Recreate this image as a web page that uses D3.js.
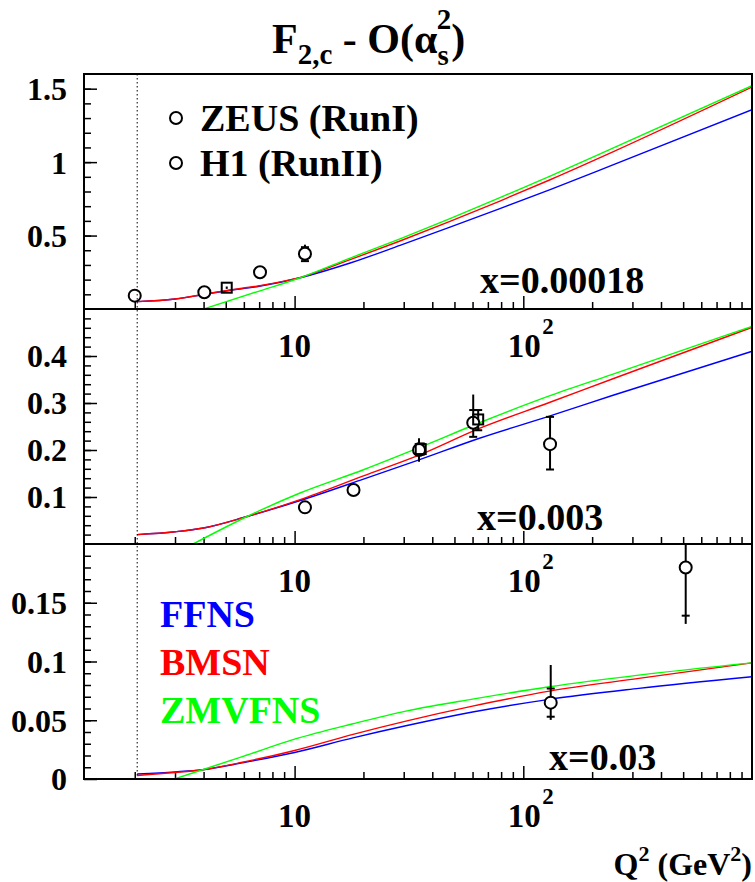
<!DOCTYPE html>
<html>
<head>
<meta charset="utf-8">
<script src="https://cdn.jsdelivr.net/npm/d3@7"></script>
<style>
  body { margin: 0; background: #fff; }
  text { font-family: "Liberation Serif", "Times New Roman", serif; font-weight: bold; fill: #000; }
</style>
</head>
<body>
<div id="chart"></div>
<script>
//-- Data --//
var xBinLabels = ["x=0.00018", "x=0.003", "x=0.03"];
var schemeNames = ["FFNS", "BMSN", "ZMVFNS"];
var expNames = ["ZEUS (RunI)", "H1 (RunII)"];

// top panel, x = 0.00018
var qTop = [2.05, 3, 4, 5, 7, 10.6, 17.5, 28.9, 47.8, 79, 131, 245, 1000];
var ffnsTop = [0.05, 0.068, 0.099, 0.123, 0.155, 0.213, 0.313, 0.433, 0.557, 0.683, 0.813, 0.979, 1.357];
var bmsnTop = [0.05, 0.068, 0.1, 0.125, 0.158, 0.215, 0.336, 0.463, 0.597, 0.735, 0.88, 1.068, 1.511];
var qZmvTop = [4, 7, 10.6, 17.5, 28.9, 47.8, 79, 131, 245, 1000];
var zmvTop = [0, 0.122, 0.213, 0.347, 0.478, 0.616, 0.758, 0.905, 1.093, 1.52];

// middle panel, x = 0.003
var qMid = [2.05, 3, 4, 6.2, 10.5, 20, 35, 64.3, 130, 245, 1000];
var ffnsMid = [0.02, 0.026, 0.034, 0.0585, 0.092, 0.138, 0.179, 0.225, 0.272, 0.316, 0.41];
var bmsnMid = [0.02, 0.026, 0.034, 0.0585, 0.094, 0.145, 0.189, 0.246, 0.301, 0.351, 0.461];
var qZmvMid = [3.6, 6.2, 10.5, 20, 35, 64.3, 130, 245, 1000];
var zmvMid = [0, 0.0585, 0.108, 0.158, 0.205, 0.258, 0.315, 0.361, 0.463];

// bottom panel, x = 0.03
var qBot = [2.05, 3, 3.96, 6, 10, 18, 31, 60, 130, 320, 1000];
var ffnsBot = [0.0042, 0.006, 0.0079, 0.014, 0.0226, 0.035, 0.0455, 0.057, 0.0678, 0.0771, 0.087];
var bmsnBot = [0.003, 0.0055, 0.0079, 0.0145, 0.0243, 0.038, 0.0495, 0.062, 0.0748, 0.0856, 0.0988];
var qZmvBot = [2.98, 3.96, 6, 10, 18, 31, 60, 130, 320, 1000];
var zmvBot = [0, 0.0079, 0.0195, 0.0339, 0.047, 0.058, 0.068, 0.0785, 0.0884, 0.0988];

// measurements: [Q2, F2c, errDown, errUp, capDown, capUp] (cap 0 = no cap)
var circlesTop = [[2.0, 0.091, 0.006, 0.006, 0, 0], [4.03, 0.114, 0.006, 0.006, 0, 0],
                  [7.06, 0.25, 0.045, 0.02, 0, 0], [11.1, 0.376, 0.052, 0.062, 0.05, 0.045]];
var squaresTop = [[5.05, 0.145, 0.008, 0.008, 0, 0]];
var circlesMid = [[11.1, 0.078, 0.006, 0.006, 0, 0], [18.1, 0.115, 0.008, 0.008, 0, 0],
                  [35.0, 0.2, 0.025, 0.025, 0, 0], [60.4, 0.258, 0.03, 0.06, 0.03, 0.027],
                  [130.9, 0.2125, 0.054, 0.058, 0.054, 0.058]];
var squaresMid = [[35.6, 0.202, 0.012, 0.012, 0.012, 0.012], [63.5, 0.265, 0.023, 0.02, 0.023, 0.02]];
var circlesBot = [[131.8, 0.065, 0.0147, 0.032, 0.012, 0.012], [513, 0.18, 0.048, 0.04, 0.041, 0.04]];
var squaresBot = [];

var yMaxes = [1.6, 0.5, 0.2];
var yMajor = [[0.5, 1, 1.5], [0.1, 0.2, 0.3, 0.4], [0, 0.05, 0.1, 0.15]];
var yMinorStep = [0.1, 0.02, 0.01];
var qMin = 1.2, qMax = 1000, qThreshold = 2.05;

//-- Layout --//
var W = 755, H = 882;
var left = 84, right = 752;
var panelTops = [74, 309, 544], panelH = 235;
var colors = ["#0000ff", "#ff0000", "#00ff00"];

var svg = d3.select("#chart").append("svg")
  .attr("width", W).attr("height", H)
  .style("background", "#fff");

var x = d3.scaleLog().domain([qMin, qMax]).range([left, right]);

var panels = [
  {q: qTop, f: ffnsTop, b: bmsnTop, qz: qZmvTop, z: zmvTop, c: circlesTop, s: squaresTop},
  {q: qMid, f: ffnsMid, b: bmsnMid, qz: qZmvMid, z: zmvMid, c: circlesMid, s: squaresMid},
  {q: qBot, f: ffnsBot, b: bmsnBot, qz: qZmvBot, z: zmvBot, c: circlesBot, s: squaresBot}
];

var xMinor = [];
[1, 10, 100].forEach(function(d) {
  for (var k = 2; k <= 9; k++) if (d * k >= qMin && d * k <= qMax) xMinor.push(d * k);
});

var line = d3.line().curve(d3.curveMonotoneX);

panels.forEach(function(p, i) {
  var top = panelTops[i], bottom = top + panelH;
  var y = d3.scaleLinear().domain([0, yMaxes[i]]).range([bottom, top]);
  var g = svg.append("g");

  svg.append("clipPath").attr("id", "clip" + i)
    .append("rect").attr("x", left).attr("y", top)
    .attr("width", right - left).attr("height", panelH);

  // y ticks and labels
  var minor = d3.range(yMinorStep[i], yMaxes[i] - 1e-9, yMinorStep[i]);
  g.append("g").attr("transform", "translate(" + left + ",0)")
    .call(d3.axisLeft(y).tickValues(minor).tickSize(-7).tickFormat(""))
    .call(function(a) { a.select(".domain").remove(); a.selectAll("line").attr("stroke-width", 1.5); });
  g.append("g").attr("transform", "translate(" + left + ",0)")
    .call(d3.axisLeft(y).tickValues(yMajor[i]).tickSize(-13).tickPadding(17).tickFormat(function(d) { return d; }))
    .call(function(a) {
      a.select(".domain").remove();
      a.selectAll("line").attr("stroke-width", 1.5);
      a.selectAll("text").attr("font-size", 32).attr("font-family", null).attr("dy", "0.34em");
    });

  // x ticks along the bottom of each pad
  g.append("g").attr("transform", "translate(0," + bottom + ")")
    .call(d3.axisBottom(x).tickValues(xMinor).tickSize(-7).tickFormat(""))
    .call(function(a) { a.select(".domain").remove(); a.selectAll("line").attr("stroke-width", 1.5); });
  g.append("g").attr("transform", "translate(0," + bottom + ")")
    .call(d3.axisBottom(x).tickValues([10, 100]).tickSize(-13).tickFormat(""))
    .call(function(a) { a.select(".domain").remove(); a.selectAll("line").attr("stroke-width", 1.5); });

  // curves
  var cg = g.append("g").attr("clip-path", "url(#clip" + i + ")");
  var series = [[p.q, p.f], [p.q, p.b], [p.qz, p.z]];
  series.forEach(function(s, k) {
    var pts = s[0].map(function(q, j) { return [x(q), y(s[1][j])]; });
    cg.append("path").attr("d", line(pts))
      .attr("fill", "none").attr("stroke", colors[k]).attr("stroke-width", 1.4);
  });

  // data points with error bars
  var all = p.c.concat(p.s);
  all.forEach(function(d) {
    var px = x(d[0]);
    cg.append("line").attr("x1", px).attr("x2", px)
      .attr("y1", y(d[1] - d[2])).attr("y2", y(d[1] + d[3]))
      .attr("stroke", "#000").attr("stroke-width", 2);
    [[-d[4], d[4]], [d[5], d[5]]].forEach(function(c) {
      if (c[1] > 0) {
        cg.append("line").attr("x1", px - 4).attr("x2", px + 4)
          .attr("y1", y(d[1] + c[0])).attr("y2", y(d[1] + c[0]))
          .attr("stroke", "#000").attr("stroke-width", 2);
      }
    });
  });
  cg.selectAll(".circ").data(p.c).enter().append("circle")
    .attr("cx", function(d) { return x(d[0]); })
    .attr("cy", function(d) { return y(d[1]); })
    .attr("r", 6).attr("fill", "#fff").attr("stroke", "#000").attr("stroke-width", 2);
  cg.selectAll(".sq").data(p.s).enter().append("rect")
    .attr("x", function(d) { return x(d[0]) - 5; })
    .attr("y", function(d) { return y(d[1]) - 5; })
    .attr("width", 10).attr("height", 10)
    .attr("fill", "none").attr("stroke", "#000").attr("stroke-width", 2);

  // frame
  g.append("rect").attr("x", left).attr("y", top)
    .attr("width", right - left).attr("height", panelH)
    .attr("fill", "none").attr("stroke", "#000").attr("stroke-width", 2);

  // bin label
  svg.append("text").attr("x", [480, 477, 549][i]).attr("y", [293, 530, 770][i])
    .attr("font-size", 38).text(xBinLabels[i]);
});

// x tick labels under each pad (they spill into the next pad)
panelTops.forEach(function(top) {
  var bottom = top + panelH;
  svg.append("text").attr("x", x(10)).attr("y", bottom + 48)
    .attr("text-anchor", "middle").attr("font-size", 33).text("10");
  svg.append("text").attr("x", x(100) + 1).attr("y", bottom + 48)
    .attr("text-anchor", "middle").attr("font-size", 33).text("10");
  svg.append("text").attr("x", x(100) + 19).attr("y", bottom + 25)
    .attr("font-size", 23).text("2");
});

// threshold line
svg.append("line").attr("x1", x(qThreshold)).attr("x2", x(qThreshold))
  .attr("y1", panelTops[0]).attr("y2", panelTops[2] + panelH)
  .attr("stroke", "#000").attr("stroke-width", 1).attr("stroke-dasharray", "1.5,2.5");

// title
var title = svg.append("text").attr("x", 272).attr("y", 53).attr("font-size", 42);
title.append("tspan").text("F");
title.append("tspan").attr("font-size", 29).attr("dy", 11).text("2,c");
title.append("tspan").attr("dy", -11).text(" - O(\u03b1");
title.append("tspan").attr("font-size", 29).attr("dy", 12).text("s");
title.append("tspan").attr("font-size", 29).attr("dx", -12).attr("dy", -36).text("2");
title.append("tspan").attr("dy", 24).text(")");

// experiment legend
expNames.forEach(function(n, k) {
  var cy = [118, 163][k];
  svg.append("circle").attr("cx", 176).attr("cy", cy).attr("r", 6)
    .attr("fill", "none").attr("stroke", "#000").attr("stroke-width", 2);
  svg.append("text").attr("x", 200).attr("y", cy + 13).attr("font-size", 38).text(n);
});

// scheme legend
schemeNames.forEach(function(n, k) {
  svg.append("text").attr("x", 160).attr("y", 627 + 48 * k)
    .attr("font-size", 38).style("fill", colors[k]).text(n);
});

// axis title
var xt = svg.append("text").attr("x", right).attr("y", 875)
  .attr("text-anchor", "end").attr("font-size", 32);
xt.append("tspan").text("Q");
xt.append("tspan").attr("font-size", 22).attr("dy", -14).text("2");
xt.append("tspan").attr("dy", 14).text(" (GeV");
xt.append("tspan").attr("font-size", 22).attr("dy", -14).text("2");
xt.append("tspan").attr("dy", 14).text(")");
</script>
</body>
</html>
